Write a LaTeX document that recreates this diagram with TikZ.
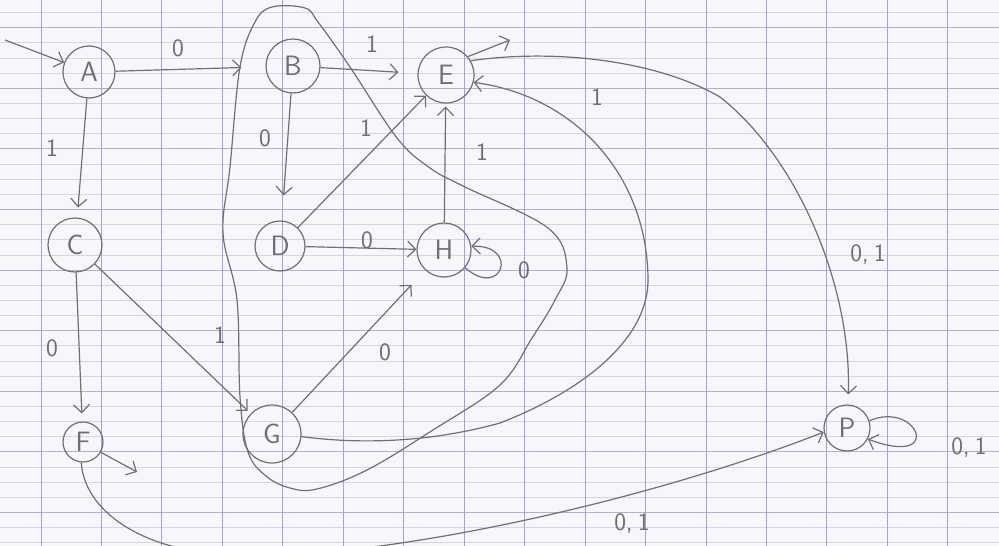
\documentclass[tikz,border=0pt]{standalone}
\usetikzlibrary{arrows.meta}
\definecolor{paper}{HTML}{F7F6FB}
\definecolor{vline}{HTML}{A2A2D8}
\definecolor{hmin}{HTML}{D4D4EA}
\definecolor{hmaj}{HTML}{B0B0D4}
\definecolor{pencil}{HTML}{707070}
\begin{document}
\begin{tikzpicture}[x=1pt,y=-1pt,
  state/.style={circle,draw=pencil,line width=1.2pt,text=pencil,
    font=\sffamily\fontsize{28}{28}\selectfont,inner sep=0pt},
  tr/.style={draw=pencil,line width=1.2pt,
    -{Straight Barb[length=8pt,width=16pt,line width=1.2pt]}},
  lab/.style={text=pencil,font=\sffamily\fontsize{25}{25}\selectfont,inner sep=1pt},
  blob/.style={draw=pencil,line width=1.2pt}]
\useasboundingbox (0,0) rectangle (999,546);
\fill[paper] (0,0) rectangle (999,546);
\begin{scope}
\clip (0,0) rectangle (999,546);
\foreach \i in {0,...,35} {\draw[hmin,line width=0.8pt] (0,12.5+15.15*\i) -- (999,12.5+15.15*\i);}
\foreach \i in {0,...,8} {\draw[hmaj,line width=1.1pt] (0,27.7+60.6*\i) -- (999,27.7+60.6*\i);}
\foreach \i in {0,...,15} {\draw[vline,line width=0.9pt] (41+60.45*\i,0) -- (41+60.45*\i,546);}

% states
\node[state,minimum size=52pt] (A) at (89,72) {A};
\node[state,minimum size=54pt] (B) at (293,66) {B};
\node[state,minimum size=56pt] (E) at (446,75) {E};
\node[state,minimum size=54pt] (C) at (75,245) {C};
\node[state,minimum size=50pt] (D) at (280,246) {D};
\node[state,minimum size=54pt] (H) at (444,250) {H};
\node[state,minimum size=58pt] (G) at (272,434) {G};
\node[state,minimum size=40pt] (F) at (83,442) {F};
\node[state,minimum size=46pt] (P) at (847,428) {P};

% grouping outline
\draw[blob] plot[smooth cycle,tension=0.6] coordinates {
 (272,7) (305,8) (318,22) (350,67) (397,138) (430,168) (463,186) (548,228)
 (567,268) (555,300) (532,338) (500,385) (433,430) (367,470) (317,489)
 (290,488) (266,476) (248,452) (240,397) (237,300) (223,233) (230,167)
 (240,67) (255,22)};

% initial and final arrows
\coordinate (init) at (5,40);
\coordinate (Eout) at (510,40);
\coordinate (Fout) at (137,472);
\draw[tr] (init) -- (A);
\draw[tr] (E.40) -- (Eout);
\draw[tr] (F.-30) -- (Fout);

% transitions
\draw[tr,shorten >=24pt] (A) -- (B);
\node[lab] (lab1) at (178,48) {0};
\draw[tr,shorten >=10pt] (A) -- (C);
\node[lab] (lab2) at (52,148) {1};
\draw[tr,shorten >=25pt] (B) -- (D);
\node[lab] (lab3) at (265,138) {0};
\draw[tr,shorten >=19pt] (B) -- (E);
\node[lab] (lab4) at (372,44) {1};
\draw[tr] (D) -- (E);
\node[lab] (lab5) at (366,128) {1};
\draw[tr] (D) -- (H);
\node[lab] (lab6) at (367,240) {0};
\draw[tr,shorten >=3pt] (H) -- (E);
\node[lab] (lab7) at (482,152) {1};
\draw[tr] (H.-40) .. controls (502,300) and (520,245) .. (H.8);
\node[lab] (lab8) at (524,270) {0};
\draw[tr,shorten >=8pt] (C) -- (F);
\node[lab] (lab9) at (52,348) {0};
\draw[tr,shorten >=4pt] (C) -- (G);
\node[lab] (lab10) at (220,335) {1};
\draw[tr,shorten >=20pt] (G) -- (H);
\node[lab] (lab11) at (385,352) {0};
\draw[tr] (G.-5) .. controls (380,447) and (450,437) .. (500,423)
  .. controls (580,392) and (650,340) .. (648,277)
  .. controls (646,170) and (570,95) .. (E.-15);
\node[lab] (lab12) at (597,97) {1};
\draw[tr,shorten >=10pt] (E.30) .. controls (560,48) and (660,62) .. (720,97)
  .. controls (800,160) and (852,290) .. (P);
\node[lab] (lab13) at (868,255) {0,\kern5pt1};
\draw[tr] (F.-95) .. controls (85,515) and (150,556) .. (250,556)
  .. controls (400,556) and (650,500) .. (P.190);
\node[lab] (lab14) at (632,524) {0,\kern5pt1};
\draw[tr] (P.18) .. controls (918,400) and (945,468) .. (P.-28);
\node[lab] (lab15) at (969,448) {0,\kern5pt1};
\end{scope}
\end{tikzpicture}
\end{document}
